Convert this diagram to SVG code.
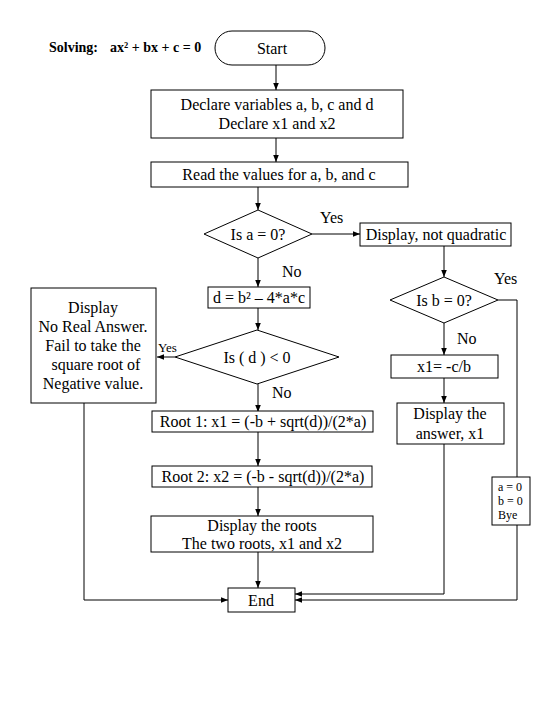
<svg xmlns="http://www.w3.org/2000/svg" width="540" height="720" viewBox="0 0 540 720">
  <style>
    .box { fill: #ffffff; stroke: #000000; stroke-width: 1; }
    .t { font-family: "Liberation Serif", "Times New Roman", serif; font-size: 16px; fill: #000000; }
    .c { text-anchor: middle; }
    .small { font-size: 12px; }
    .title { font-family: "Liberation Serif", "Times New Roman", serif; font-size: 14px; font-weight: bold; fill: #000000; }
    .line { fill: none; stroke: #000000; stroke-width: 1; }
  </style>
  <defs>
    <marker id="arrow" viewBox="0 0 10 10" refX="10" refY="5" markerWidth="7" markerHeight="7" orient="auto" markerUnits="userSpaceOnUse">
      <path d="M0,1 L10,5 L0,9 z" fill="#000000"/>
    </marker>
  </defs>
  <rect width="540" height="720" fill="#ffffff"/>

  <text class="title" x="49" y="52">Solving:</text>
  <text class="title" x="110" y="52">ax² + bx + c = 0</text>

  <g id="connectors">
    <path class="line" d="M276,65 V90" marker-end="url(#arrow)"/>
    <path class="line" d="M276,138 V162" marker-end="url(#arrow)"/>
    <path class="line" d="M258,187 V210" marker-end="url(#arrow)"/>
    <path class="line" d="M312,234 H360" marker-end="url(#arrow)"/>
    <path class="line" d="M258,258 V287" marker-end="url(#arrow)"/>
    <path class="line" d="M444,246 V277" marker-end="url(#arrow)"/>
    <path class="line" d="M258,308 V330" marker-end="url(#arrow)"/>
    <path class="line" d="M175,357 H157" marker-end="url(#arrow)"/>
    <path class="line" d="M444,323 V355" marker-end="url(#arrow)"/>
    <path class="line" d="M444,378 V403" marker-end="url(#arrow)"/>
    <path class="line" d="M258,384 V412" marker-end="url(#arrow)"/>
    <path class="line" d="M258,432 V466" marker-end="url(#arrow)"/>
    <path class="line" d="M258,487 V516" marker-end="url(#arrow)"/>
    <path class="line" d="M258,552 V588" marker-end="url(#arrow)"/>
    <path class="line" d="M84,403 V600 H228" marker-end="url(#arrow)"/>
    <path class="line" d="M444,444 V594 H295" marker-end="url(#arrow)"/>
    <path class="line" d="M498,300 H517 V477"/>
    <path class="line" d="M517,525 V600 H295" marker-end="url(#arrow)"/>
    <text class="t" x="320" y="223">Yes</text>
    <text class="t" x="282" y="277">No</text>
    <text class="t" x="494" y="284">Yes</text>
    <text class="t" x="457" y="344">No</text>
    <text class="t" x="158" y="352" style="font-size:13px">Yes</text>
    <text class="t" x="272" y="398">No</text>
  </g>

  <g id="start">
    <rect class="box" x="215" y="31" width="110" height="34" rx="17" ry="17"/>
    <text class="t c" x="272" y="54">Start</text>
  </g>

  <g id="declare">
    <rect class="box" x="151" y="90" width="252" height="48"/>
    <text class="t c" x="277" y="110">Declare variables a, b, c and d</text>
    <text class="t c" x="277" y="129">Declare x1 and x2</text>
  </g>

  <g id="read">
    <rect class="box" x="151" y="162" width="257" height="25"/>
    <text class="t c" x="279" y="180">Read the values for a, b, and c</text>
  </g>

  <g id="is-a-zero">
    <polygon class="box" points="258,210 312,234 258,258 204,234"/>
    <text class="t c" x="258" y="240">Is a = 0?</text>
  </g>

  <g id="not-quadratic">
    <rect class="box" x="360" y="223" width="151" height="23"/>
    <text class="t c" x="436" y="240">Display, not quadratic</text>
  </g>

  <g id="discriminant">
    <rect class="box" x="208" y="287" width="102" height="21"/>
    <text class="t c" x="259" y="303">d = b² – 4*a*c</text>
  </g>

  <g id="is-b-zero">
    <polygon class="box" points="444,277 498,300 444,323 390,300"/>
    <text class="t c" x="444" y="306">Is b = 0?</text>
  </g>

  <g id="no-real">
    <rect class="box" x="31" y="288" width="125" height="115"/>
    <text class="t c" x="93" y="313">Display</text>
    <text class="t c" x="93" y="332">No Real Answer.</text>
    <text class="t c" x="93" y="351">Fail to take the</text>
    <text class="t c" x="96" y="370">square root of</text>
    <text class="t c" x="93" y="389">Negative value.</text>
  </g>

  <g id="is-d-negative">
    <polygon class="box" points="257,330 339,357 257,384 175,357"/>
    <text class="t c" x="257" y="363">Is ( d ) &lt; 0</text>
  </g>

  <g id="linear-root">
    <rect class="box" x="391" y="355" width="107" height="23"/>
    <text class="t c" x="444" y="372">x1= -c/b</text>
  </g>

  <g id="show-x1">
    <rect class="box" x="397" y="403" width="107" height="41"/>
    <text class="t c" x="450" y="419">Display the</text>
    <text class="t c" x="450" y="439">answer, x1</text>
  </g>

  <g id="root1">
    <rect class="box" x="152" y="411" width="221" height="21"/>
    <text class="t c" x="263" y="427">Root 1: x1 = (-b + sqrt(d))/(2*a)</text>
  </g>

  <g id="root2">
    <rect class="box" x="152" y="466" width="220" height="21"/>
    <text class="t c" x="263" y="482">Root 2: x2 = (-b - sqrt(d))/(2*a)</text>
  </g>

  <g id="show-roots">
    <rect class="box" x="151" y="516" width="222" height="36"/>
    <text class="t c" x="262" y="531">Display the roots</text>
    <text class="t c" x="262" y="549">The two roots, x1 and x2</text>
  </g>

  <g id="bye">
    <rect class="box" x="492" y="477" width="38" height="48"/>
    <text class="t small" x="498" y="491">a = 0</text>
    <text class="t small" x="498" y="505">b = 0</text>
    <text class="t small" x="498" y="519">Bye</text>
  </g>

  <g id="end">
    <rect class="box" x="228" y="588" width="67" height="24"/>
    <text class="t c" x="261" y="606">End</text>
  </g>
</svg>
